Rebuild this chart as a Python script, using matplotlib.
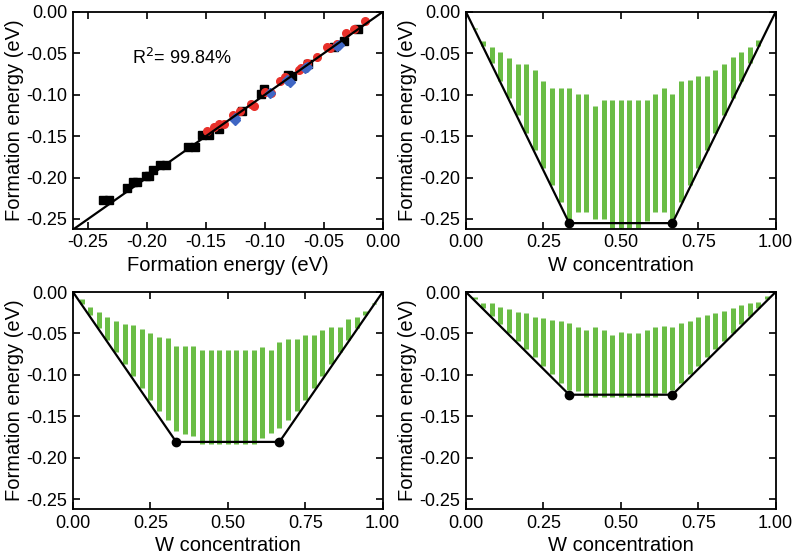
import numpy as np
import matplotlib
matplotlib.use("Agg")
import matplotlib.pyplot as plt

plt.rcParams["font.family"] = ["Liberation Sans", "DejaVu Sans"]
plt.rcParams["axes.unicode_minus"] = False

# --- panel a: fitted vs computed formation energy ---
sq_x = [-0.2375, -0.232, -0.217, -0.212, -0.2086, -0.2007, -0.198, -0.195, -0.189, -0.184,
        -0.165, -0.159, -0.1536, -0.147, -0.1386, -0.119, -0.1029, -0.101, -0.080, -0.077,
        -0.063, -0.0414, -0.033, -0.0207]
sq_y = [-0.227, -0.227, -0.2127, -0.2055, -0.2055, -0.198, -0.198, -0.191, -0.1847, -0.1847,
        -0.1627, -0.1627, -0.1486, -0.1486, -0.1414, -0.120, -0.0994, -0.093, -0.076, -0.077,
        -0.0625, -0.0417, -0.0345, -0.0208]
ci_x = [-0.149, -0.143, -0.139, -0.135, -0.127, -0.121, -0.112, -0.109, -0.0995, -0.095,
        -0.087, -0.083, -0.071, -0.0695, -0.064, -0.0556, -0.047, -0.045, -0.0385, -0.031,
        -0.024, -0.015]
ci_y = [-0.144, -0.139, -0.135, -0.135, -0.125, -0.119, -0.111, -0.113, -0.097, -0.098,
        -0.083, -0.0785, -0.070, -0.068, -0.062, -0.054, -0.0417, -0.043, -0.0385, -0.0256,
        -0.021, -0.0104]
di_x = [-0.125, -0.125, -0.096, -0.081, -0.079, -0.0655, -0.064, -0.0385, -0.037]
di_y = [-0.130, -0.128, -0.098, -0.082, -0.085, -0.068, -0.066, -0.041, -0.040]
fit_x = [-0.265, 0.0]
fit_y = [-0.265, 0.0]
r2_text = "R$^2$= 99.84%"

# --- convex hull panels: columns of structures at x = k/36 ---
conc = [k / 36 for k in range(1, 36)]

top_b = [-0.0196, -0.0345, -0.0417, -0.0489, -0.056, -0.0625, -0.0625, -0.0705, -0.0837, -0.0917,
         -0.0917, -0.0917, -0.0986, -0.0986, -0.113, -0.1058, -0.1058, -0.1058, -0.1058, -0.1058,
         -0.1058, -0.0986, -0.0917, -0.0986, -0.0837, -0.0817, -0.077, -0.077, -0.0697, -0.0625,
         -0.0545, -0.0489, -0.0417, -0.0337, -0.0208]
bot_b = [-0.020, -0.041, -0.062, -0.083, -0.104, -0.125, -0.146, -0.167, -0.188, -0.209,
         -0.230, -0.250, -0.242, -0.242, -0.250, -0.250, -0.261, -0.261, -0.261, -0.261,
         -0.252, -0.242, -0.242, -0.250, -0.230, -0.209, -0.188, -0.167, -0.146, -0.125,
         -0.104, -0.083, -0.062, -0.041, -0.021]
hull_b_x = [0.0, 1 / 3, 2 / 3, 1.0]
hull_b_y = [0.0, -0.255, -0.255, 0.0]

top_c = [-0.0088, -0.0184, -0.0236, -0.0296, -0.0345, -0.0385, -0.0397, -0.0449, -0.0497, -0.0545,
         -0.0557, -0.0657, -0.0657, -0.0657, -0.0705, -0.0705, -0.0705, -0.0705, -0.0705, -0.0705,
         -0.0705, -0.0665, -0.0705, -0.0609, -0.0569, -0.0569, -0.0517, -0.0517, -0.0457, -0.0417,
         -0.0417, -0.0329, -0.0304, -0.0224, -0.0128]
bot_c = [-0.014, -0.028, -0.043, -0.058, -0.072, -0.087, -0.101, -0.116, -0.130, -0.144,
         -0.154, -0.168, -0.172, -0.174, -0.184, -0.184, -0.184, -0.184, -0.184, -0.184,
         -0.184, -0.176, -0.170, -0.164, -0.154, -0.144, -0.130, -0.116, -0.101, -0.087,
         -0.072, -0.058, -0.043, -0.028, -0.014]
hull_c_x = [0.0, 1 / 3, 2 / 3, 1.0]
hull_c_y = [0.0, -0.181, -0.181, 0.0]

top_d = [-0.0056, -0.0128, -0.0136, -0.0176, -0.0208, -0.0236, -0.0248, -0.0304, -0.0316, -0.0337,
         -0.0345, -0.0377, -0.0417, -0.0457, -0.0417, -0.0457, -0.0517, -0.0477, -0.0489, -0.0489,
         -0.0457, -0.0417, -0.0409, -0.0417, -0.0377, -0.0345, -0.0304, -0.0276, -0.0248, -0.0224,
         -0.0196, -0.0156, -0.0128, -0.0116, -0.0048]
bot_d = [-0.009, -0.019, -0.029, -0.039, -0.049, -0.059, -0.069, -0.079, -0.089, -0.099,
         -0.110, -0.118, -0.120, -0.127, -0.127, -0.127, -0.127, -0.127, -0.127, -0.127,
         -0.127, -0.127, -0.122, -0.118, -0.110, -0.099, -0.089, -0.079, -0.069, -0.059,
         -0.049, -0.039, -0.029, -0.019, -0.009]
hull_d_x = [0.0, 1 / 3, 2 / 3, 1.0]
hull_d_y = [0.0, -0.124, -0.124, 0.0]

e_ticks = [0.0, -0.05, -0.10, -0.15, -0.20, -0.25]
x_ticks_a = [-0.25, -0.20, -0.15, -0.10, -0.05, 0.00]
x_ticks_c = [0.00, 0.25, 0.50, 0.75, 1.00]

green = "#6abd45"
fs_tick = 13
fs_lab = 14.5


def style_axes(ax):
    for s in ax.spines.values():
        s.set_linewidth(1.3)
    ax.tick_params(direction="in", top=True, right=True, length=5, width=1.2,
                   labelsize=fs_tick, pad=4)
    ax.set_yticks(e_ticks)
    ax.set_yticklabels([f"{t:.2f}" for t in e_ticks])
    ax.set_ylim(-0.262, 0.0)
    ax.set_ylabel("Formation energy (eV)", fontsize=fs_lab, labelpad=2)


def hull_panel(ax, top, bot, hx, hy):
    ax.vlines(conc, bot, top, color=green, linewidth=3.6, zorder=2)
    ax.plot(hx, hy, color="black", linewidth=1.6, zorder=3)
    ax.plot(hx[1:3], hy[1:3], "o", color="black", markersize=6, zorder=4)
    ax.set_xlim(0, 1)
    ax.set_xticks(x_ticks_c)
    ax.set_xticklabels([f"{t:.2f}" for t in x_ticks_c])
    ax.set_xlabel("W concentration", fontsize=fs_lab, labelpad=3)
    style_axes(ax)


fig = plt.figure(figsize=(7.96, 5.57), dpi=100)
w = 0.389
h = 0.3895
ax_a = fig.add_axes([0.0917, 0.589, w, h])
ax_b = fig.add_axes([0.5854, 0.589, w, h])
ax_c = fig.add_axes([0.0917, 0.0862, w, h])
ax_d = fig.add_axes([0.5854, 0.0862, w, h])

# panel a
ax_a.plot(sq_x, sq_y, "s", color="black", markersize=5.5, zorder=2)
ax_a.plot(ci_x, ci_y, "o", color="#e8302a", markersize=5.5, zorder=2)
ax_a.plot(di_x, di_y, "D", color="#3f66c4", markersize=5, zorder=2)
ax_a.plot(fit_x, fit_y, color="black", linewidth=1.6, zorder=3)
ax_a.text(-0.213, -0.055, r2_text, fontsize=13, ha="left", va="center")
ax_a.set_xlim(-0.2628, 0.0)
ax_a.set_xticks(x_ticks_a)
ax_a.set_xticklabels([f"{t:.2f}" for t in x_ticks_a])
ax_a.set_xlabel("Formation energy (eV)", fontsize=fs_lab, labelpad=3)
style_axes(ax_a)

hull_panel(ax_b, top_b, bot_b, hull_b_x, hull_b_y)
hull_panel(ax_c, top_c, bot_c, hull_c_x, hull_c_y)
hull_panel(ax_d, top_d, bot_d, hull_d_x, hull_d_y)

fig.savefig("out.png", dpi=100)
